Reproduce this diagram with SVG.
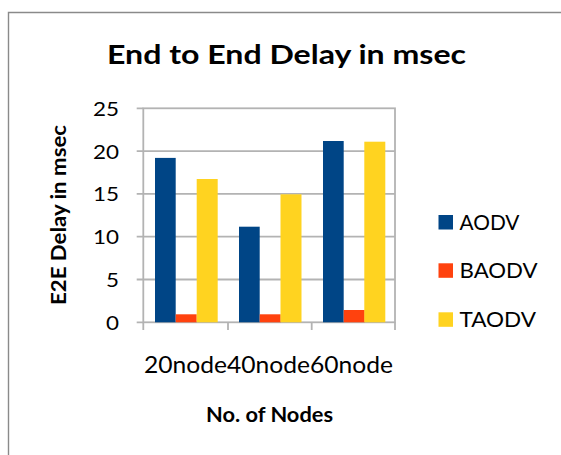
<svg xmlns="http://www.w3.org/2000/svg" width="561" height="455" viewBox="0 0 561 455">
  <style>
    text { font-family: Lato, "Open Sans", sans-serif; fill: #000; }
    .title { font-size: 27px; font-weight: bold; }
    .axtitle { font-size: 21px; font-weight: bold; }
    .tick { font-size: 19px; text-anchor: end; }
    .cat { font-size: 24px; }
    .leg { font-size: 21px; }
    .grid { stroke: #b3b3b3; stroke-width: 1.8; fill: none; }
    .aodv { fill: #004586; }
    .baodv { fill: #ff420e; }
    .taodv { fill: #ffd320; }
  </style>

  <!-- chart frame -->
  <rect x="0" y="0" width="561" height="455" fill="#fff"/>
  <path d="M8.5 455 V12.5 H561" fill="none" stroke="#8a8a8a" stroke-width="1.4"/>

  <text class="title" x="107" y="64" textLength="359" lengthAdjust="spacingAndGlyphs">End to End Delay in msec</text>

  <!-- plot area: grid, axis and ticks -->
  <g id="axes">
    <rect class="grid" x="143.3" y="108.3" width="251.7" height="214"/>
    <path class="grid" d="M143.3 151.1 H395 M143.3 193.9 H395 M143.3 236.7 H395 M143.3 279.5 H395"/>
    <path class="grid" d="M136.7 108.3 H143.3 M136.7 151.1 H143.3 M136.7 193.9 H143.3 M136.7 236.7 H143.3 M136.7 279.5 H143.3 M136.7 322.3 H143.3"/>
    <path class="grid" d="M143.3 322.3 V330 M228 322.3 V330 M311.7 322.3 V330 M395 322.3 V330"/>
  </g>

  <g id="y-ticks">
    <text class="tick" x="119" y="115.7" textLength="26" lengthAdjust="spacingAndGlyphs">25</text>
    <text class="tick" x="119" y="158.5" textLength="26" lengthAdjust="spacingAndGlyphs">20</text>
    <text class="tick" x="119" y="201.3" textLength="26" lengthAdjust="spacingAndGlyphs">15</text>
    <text class="tick" x="119" y="244.1" textLength="26" lengthAdjust="spacingAndGlyphs">10</text>
    <text class="tick" x="119" y="286.9" textLength="13" lengthAdjust="spacingAndGlyphs">5</text>
    <text class="tick" x="119" y="329.7" textLength="13" lengthAdjust="spacingAndGlyphs">0</text>
  </g>

  <!-- data bars, 8.56 px per msec -->
  <g id="series-aodv" class="aodv">
    <rect x="155" y="157.9" width="20.7" height="164.4"/>
    <rect x="239" y="226.7" width="20.7" height="95.6"/>
    <rect x="323" y="141" width="20.7" height="181.3"/>
  </g>
  <g id="series-baodv" class="baodv">
    <rect x="175.7" y="314.3" width="21" height="8"/>
    <rect x="259.7" y="314.3" width="21" height="8"/>
    <rect x="343.7" y="310" width="21" height="12.3"/>
  </g>
  <g id="series-taodv" class="taodv">
    <rect x="196.7" y="179" width="21" height="143.3"/>
    <rect x="280.5" y="194.3" width="21" height="128"/>
    <rect x="364.3" y="141.7" width="21" height="180.6"/>
  </g>

  <g id="x-labels">
    <text class="cat" x="144" y="373" textLength="83" lengthAdjust="spacingAndGlyphs">20node</text>
    <text class="cat" x="227" y="373" textLength="83" lengthAdjust="spacingAndGlyphs">40node</text>
    <text class="cat" x="310" y="373" textLength="83" lengthAdjust="spacingAndGlyphs">60node</text>
  </g>

  <text class="axtitle" x="206" y="422" textLength="127" lengthAdjust="spacingAndGlyphs">No. of Nodes</text>
  <text class="axtitle" transform="translate(66 215) rotate(-90)" x="0" y="0" text-anchor="middle" textLength="180" lengthAdjust="spacingAndGlyphs">E2E Delay in msec</text>

  <g id="legend">
    <g id="legend-aodv">
      <rect class="aodv" x="438.5" y="215" width="14.5" height="14.5"/>
      <text class="leg" x="459.5" y="230" textLength="60" lengthAdjust="spacingAndGlyphs">AODV</text>
    </g>
    <g id="legend-baodv">
      <rect class="baodv" x="438.5" y="263.3" width="14.5" height="14.5"/>
      <text class="leg" x="459.5" y="278.3" textLength="78" lengthAdjust="spacingAndGlyphs">BAODV</text>
    </g>
    <g id="legend-taodv">
      <rect class="taodv" x="438.5" y="312.3" width="14.5" height="14.5"/>
      <text class="leg" x="459.5" y="327.3" textLength="76.5" lengthAdjust="spacingAndGlyphs">TAODV</text>
    </g>
  </g>
</svg>
